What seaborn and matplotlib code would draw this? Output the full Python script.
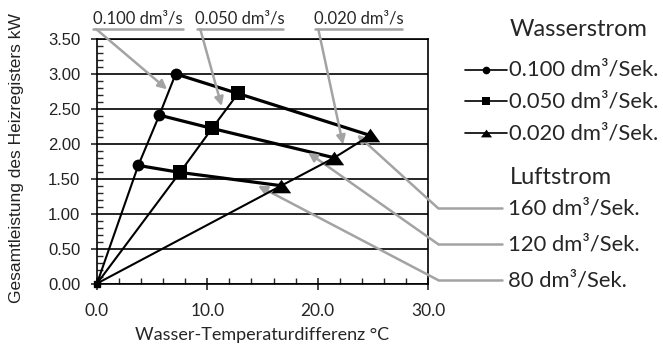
import matplotlib
matplotlib.use("Agg")
import matplotlib.pyplot as plt
import pandas as pd
import seaborn as sb
from matplotlib.ticker import MultipleLocator, FormatStrFormatter


# water-flow series: origin, then air flow 80 / 120 / 160 dm3/s
dT_0100 = [0.0, 3.74, 5.65, 7.13]
P_0100 = [0.0, 1.69, 2.41, 3.00]
dT_0050 = [0.0, 7.52, 10.43, 12.78]
P_0050 = [0.0, 1.59, 2.22, 2.72]
dT_0020 = [0.0, 16.7, 21.5, 24.75]
P_0020 = [0.0, 1.40, 1.80, 2.12]

water_labels = ["0.100 dm³/Sek.", "0.050 dm³/Sek.", "0.020 dm³/Sek."]
water_short = ["0.100 dm³/s", "0.050 dm³/s", "0.020 dm³/s"]
air_labels = ["80 dm³/Sek.", "120 dm³/Sek.", "160 dm³/Sek."]

# where the callout arrows point (data units)
water_tips = [(6.35, 2.78), (11.3, 2.54), (22.3, 1.99)]
air_tips = [(14.6, 1.40), (19.13, 1.875), (23.57, 2.13)]

GREY = "#a3a3a3"
TRI = [(-1, -0.7), (1, -0.7), (0, 0.7)]
markers = ["o", "s", TRI]
msizes = [8.5, 10.5, 14]
leg_msizes = [5.5, 6, 8]

sb.set_style("white")
FUT = "Lato"

dT = [dT_0100, dT_0050, dT_0020]
P = [P_0100, P_0050, P_0020]

fig = plt.figure(figsize=(6.63, 3.47), dpi=100)
ax = fig.add_axes([97 / 663, 1 - 283.5 / 347, 331 / 663, 244.5 / 347])

# water flow lines (thin)
for i in range(3):
    df = pd.DataFrame({"dT": dT[i], "P": P[i]})
    sb.lineplot(data=df, x="dT", y="P", ax=ax, sort=False, estimator=None,
                color="black", lw=1.5, marker=markers[i], markersize=msizes[i],
                markevery=[1, 2, 3], markeredgewidth=0, legend=False, zorder=4)
# origin point
ax.plot(dT[0][0], P[0][0], "s", color="black", ms=5, clip_on=False, zorder=5)

# air flow lines (thick)
for j in range(1, 4):
    df = pd.DataFrame({"dT": [d[j] for d in dT], "P": [p[j] for p in P]})
    sb.lineplot(data=df, x="dT", y="P", ax=ax, sort=False, estimator=None,
                color="black", lw=2.3, legend=False, zorder=3)

ax.set_xlim(0, 30)
ax.set_ylim(0, 3.5)
ax.yaxis.set_major_locator(MultipleLocator(0.5))
ax.yaxis.set_minor_locator(MultipleLocator(0.1))
ax.yaxis.set_major_formatter(FormatStrFormatter("%.2f"))
ax.xaxis.set_major_locator(MultipleLocator(10))
ax.xaxis.set_minor_locator(MultipleLocator(2))
ax.xaxis.set_major_formatter(FormatStrFormatter("%.1f"))
ax.grid(axis="y", which="major", color="black", lw=1.2)
ax.set_axisbelow(True)
for s in ax.spines.values():
    s.set_color("black")
    s.set_linewidth(1.2)

ax.tick_params(axis="y", which="major", direction="out", length=4, width=1.2,
               pad=8, labelsize=12, left=True, labelcolor="#222222")
ax.tick_params(axis="y", which="minor", direction="in", length=4, width=1, left=True)
ax.tick_params(axis="x", which="major", direction="inout", length=8, width=1.2,
               pad=10, labelsize=12.5, bottom=True)
ax.tick_params(axis="x", which="minor", direction="in", length=4, width=1, bottom=True)
for lab in ax.get_yticklabels():
    lab.set_family("Liberation Sans")
for lab in ax.get_xticklabels():
    lab.set_family(FUT)

ax.set_xlabel("Wasser-Temperaturdifferenz °C", family=FUT, fontsize=13, labelpad=6)
ax.set_ylabel("")
fig.text(17 / 663, 1 - 303 / 347, "Gesamtleistung des Heizregisters kW",
         rotation=90, ha="center", va="bottom", family="Liberation Sans", fontsize=12.5,
         color="#222222")

# top callouts for water flow
under_l = [-0.36, 9.06, 19.76]
under_r = [7.79, 16.86, 27.64]
for i in range(3):
    ax.plot([under_l[i], under_r[i]], [3.64, 3.64], color=GREY, lw=1.8, clip_on=False)
    ax.text((under_l[i] + under_r[i]) / 2, 3.80, water_short[i], ha="center",
            va="center", family=FUT, fontsize=12)
    ax.annotate("", xy=water_tips[i], xytext=(under_l[i] + 0.3, 3.64),
                arrowprops=dict(arrowstyle="-|>", color=GREY, lw=1.8,
                                mutation_scale=13, shrinkA=0, shrinkB=0),
                annotation_clip=False)

# legend for water flow
ax.text(37.43, 3.63, "Wasserstrom", ha="left", va="center", family=FUT, fontsize=17)
leg_y = [3.06, 2.61, 2.15]
for i in range(3):
    ax.plot([33.35, 35.26, 37.16], [leg_y[i]] * 3, color="black", lw=1.2,
            marker=markers[i], ms=leg_msizes[i], markevery=[1], markeredgewidth=0,
            clip_on=False)
    ax.text(37.34, leg_y[i], water_labels[i], ha="left", va="center",
            family=FUT, fontsize=15.8)

# air flow callouts
ax.text(37.43, 1.52, "Luftstrom", ha="left", va="center", family=FUT, fontsize=17)
air_y = [0.05, 0.565, 1.08]
for j in range(3):
    ax.plot([30.9, 36.7], [air_y[j]] * 2, color=GREY, lw=1.8, clip_on=False)
    ax.annotate("", xy=air_tips[j], xytext=(30.9, air_y[j]),
                arrowprops=dict(arrowstyle="-|>", color=GREY, lw=1.8,
                                mutation_scale=13, shrinkA=0, shrinkB=0),
                annotation_clip=False)
    ax.text(37.25, air_y[j], air_labels[j], ha="left", va="center",
            family=FUT, fontsize=15.8)

plt.savefig("out.png", dpi=100)
plt.close()
